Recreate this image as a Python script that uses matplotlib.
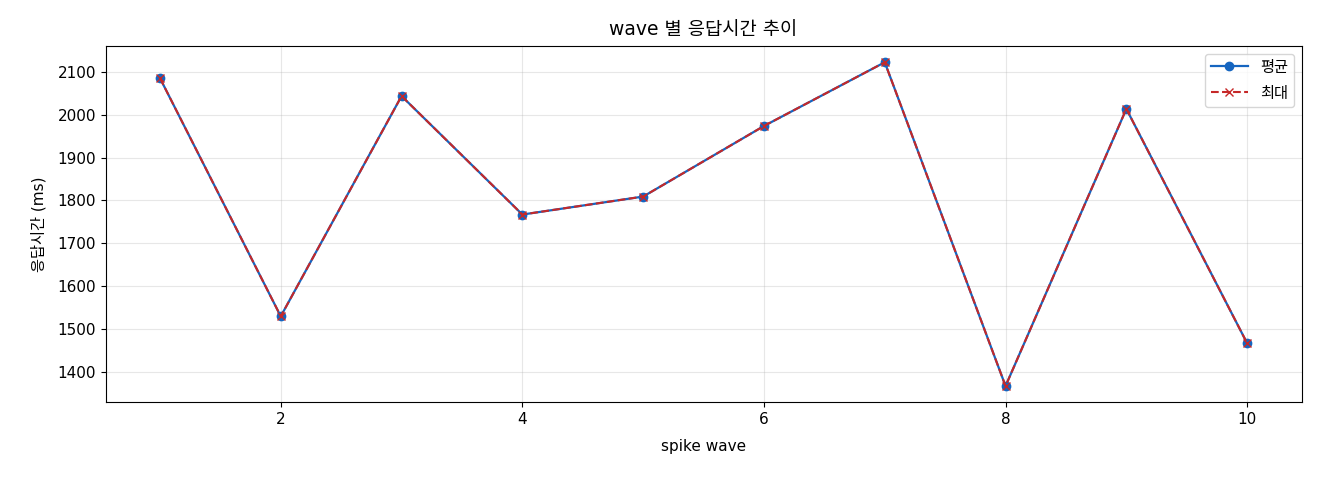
import matplotlib
matplotlib.use("Agg")
import matplotlib.pyplot as plt

plt.rcParams['font.family'] = ['DejaVu Sans', 'Noto Sans CJK KR']

# wave 별 응답시간 (ms)
waves = [1, 2, 3, 4, 5, 6, 7, 8, 9, 10]
avg_ms = [2086, 1529, 2044, 1767, 1809, 1974, 2123, 1366, 2014, 1466]
max_ms = [2086, 1529, 2044, 1767, 1809, 1974, 2123, 1366, 2014, 1466]

fig, ax = plt.subplots(figsize=(13.2, 4.8), dpi=100)

ax.plot(waves, avg_ms, '-o', color="#1565c0", linewidth=1.6, markersize=6, label="평균")
ax.plot(waves, max_ms, '--x', color="#c62828", linewidth=1.5, markersize=6, label="최대")

ax.set_title("wave 별 응답시간 추이", fontsize=13.5, pad=8)
ax.set_xlabel("spike wave", fontsize=11, labelpad=9)
ax.set_ylabel("응답시간 (ms)", fontsize=11, labelpad=8)
ax.tick_params(labelsize=11)
ax.grid(True, alpha=0.3)
ax.legend(loc="upper right", fontsize=11, handlelength=2.4, labelspacing=0.7)

fig.subplots_adjust(left=0.08, right=0.986, top=0.904, bottom=0.162)
fig.savefig("out.png")
